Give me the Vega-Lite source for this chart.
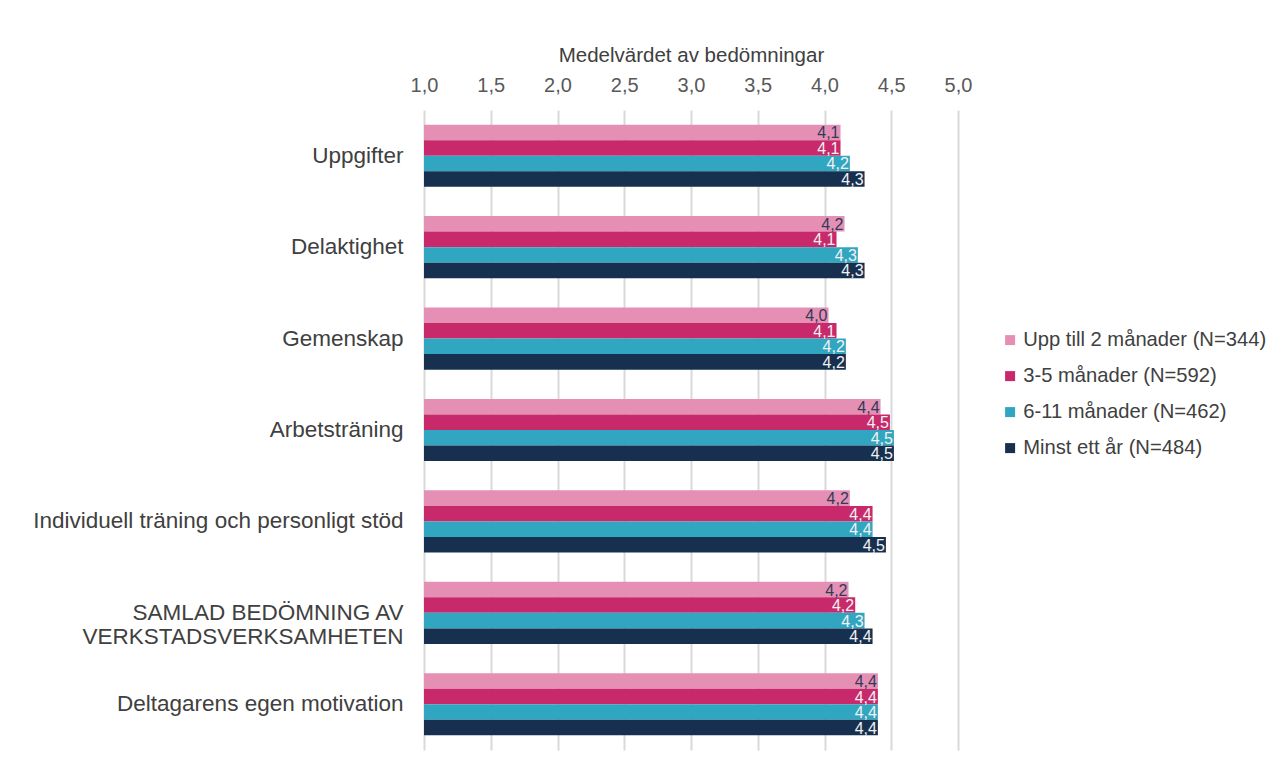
{
  "$schema": "https://vega.github.io/schema/vega-lite/v6.json",
  "width": 534,
  "height": 640,
  "padding": {"left": 424, "top": 110, "right": 326, "bottom": 22},
  "autosize": {"type": "none"},
  "background": "white",
  "config": {
    "locale": {"number": {"decimal": ",", "thousands": " ", "grouping": [3], "currency": ["", " kr"]}},
    "font": "Liberation Sans",
    "view": {"stroke": null}
  },
  "data": {
    "values": [
      {"cat": "Uppgifter", "group": "Upp till 2 månader (N=344)", "value": 4.12},
      {"cat": "Uppgifter", "group": "3-5 månader (N=592)", "value": 4.12},
      {"cat": "Uppgifter", "group": "6-11 månader (N=462)", "value": 4.19},
      {"cat": "Uppgifter", "group": "Minst ett år (N=484)", "value": 4.3},
      {"cat": "Delaktighet", "group": "Upp till 2 månader (N=344)", "value": 4.15},
      {"cat": "Delaktighet", "group": "3-5 månader (N=592)", "value": 4.09},
      {"cat": "Delaktighet", "group": "6-11 månader (N=462)", "value": 4.25},
      {"cat": "Delaktighet", "group": "Minst ett år (N=484)", "value": 4.3},
      {"cat": "Gemenskap", "group": "Upp till 2 månader (N=344)", "value": 4.03},
      {"cat": "Gemenskap", "group": "3-5 månader (N=592)", "value": 4.09},
      {"cat": "Gemenskap", "group": "6-11 månader (N=462)", "value": 4.16},
      {"cat": "Gemenskap", "group": "Minst ett år (N=484)", "value": 4.16},
      {"cat": "Arbetsträning", "group": "Upp till 2 månader (N=344)", "value": 4.42},
      {"cat": "Arbetsträning", "group": "3-5 månader (N=592)", "value": 4.49},
      {"cat": "Arbetsträning", "group": "6-11 månader (N=462)", "value": 4.52},
      {"cat": "Arbetsträning", "group": "Minst ett år (N=484)", "value": 4.52},
      {"cat": "Individuell träning och personligt stöd", "group": "Upp till 2 månader (N=344)", "value": 4.19},
      {"cat": "Individuell träning och personligt stöd", "group": "3-5 månader (N=592)", "value": 4.36},
      {"cat": "Individuell träning och personligt stöd", "group": "6-11 månader (N=462)", "value": 4.36},
      {"cat": "Individuell träning och personligt stöd", "group": "Minst ett år (N=484)", "value": 4.46},
      {"cat": "SAMLAD BEDÖMNING AV\u2002\u2002\u2002|VERKSTADSVERKSAMHETEN", "group": "Upp till 2 månader (N=344)", "value": 4.18},
      {"cat": "SAMLAD BEDÖMNING AV\u2002\u2002\u2002|VERKSTADSVERKSAMHETEN", "group": "3-5 månader (N=592)", "value": 4.23},
      {"cat": "SAMLAD BEDÖMNING AV\u2002\u2002\u2002|VERKSTADSVERKSAMHETEN", "group": "6-11 månader (N=462)", "value": 4.3},
      {"cat": "SAMLAD BEDÖMNING AV\u2002\u2002\u2002|VERKSTADSVERKSAMHETEN", "group": "Minst ett år (N=484)", "value": 4.36},
      {"cat": "Deltagarens egen motivation", "group": "Upp till 2 månader (N=344)", "value": 4.4},
      {"cat": "Deltagarens egen motivation", "group": "3-5 månader (N=592)", "value": 4.4},
      {"cat": "Deltagarens egen motivation", "group": "6-11 månader (N=462)", "value": 4.4},
      {"cat": "Deltagarens egen motivation", "group": "Minst ett år (N=484)", "value": 4.4}
    ]
  },
  "encoding": {
    "y": {
      "field": "cat", "type": "nominal", "sort": null,
      "scale": {"paddingInner": 0.32, "paddingOuter": 0.16},
      "axis": {
        "title": null, "domain": false, "ticks": false,
        "labelFontSize": 22.5, "labelColor": "#404040", "labelPadding": 21,
        "labelExpr": "split(datum.label, '|')", "labelLimit": 420, "labelLineHeight": 24
      }
    },
    "yOffset": {
      "field": "group", "type": "nominal",
      "sort": ["Upp till 2 månader (N=344)", "3-5 månader (N=592)", "6-11 månader (N=462)", "Minst ett år (N=484)"],
      "scale": {"paddingInner": 0, "paddingOuter": 0}
    },
    "x": {
      "field": "value", "type": "quantitative",
      "scale": {"domain": [1, 5], "nice": false, "zero": false},
      "axis": {
        "orient": "top", "title": "Medelvärdet av bedömningar", "format": ".1f",
        "values": [1, 1.5, 2, 2.5, 3, 3.5, 4, 4.5, 5],
        "domain": false, "ticks": false, "labelFlush": false,
        "labelFontSize": 20, "labelColor": "#595959", "labelPadding": 15,
        "titleFontSize": 20.5, "titleFontWeight": "normal", "titleColor": "#404040", "titlePadding": 10,
        "grid": true, "gridColor": "#d9d9d9", "gridWidth": 2
      }
    }
  },
  "layer": [
    {
      "mark": {"type": "bar"},
      "encoding": {
        "x2": {"datum": 1},
        "color": {
          "field": "group", "type": "nominal",
          "sort": ["Upp till 2 månader (N=344)", "3-5 månader (N=592)", "6-11 månader (N=462)", "Minst ett år (N=484)"],
          "scale": {
            "domain": ["Upp till 2 månader (N=344)", "3-5 månader (N=592)", "6-11 månader (N=462)", "Minst ett år (N=484)"],
            "range": ["#E68FB4", "#C8296B", "#31A6C1", "#17304F"]
          },
          "legend": {
            "title": null, "orient": "none", "legendX": 576, "legendY": 220,
            "symbolType": "square", "symbolSize": 100, "labelFontSize": 20.2, "labelColor": "#404040",
            "rowPadding": 15, "labelOffset": 3, "symbolStrokeWidth": 0, "labelLimit": 400
          }
        }
      }
    },
    {
      "mark": {"type": "text", "align": "right", "baseline": "middle", "dx": -1, "dy": 1, "fontSize": 16},
      "encoding": {
        "text": {"field": "value", "type": "quantitative", "format": ".1f"},
        "color": {
          "condition": {"test": "datum.group === 'Upp till 2 månader (N=344)'", "value": "#2E3B5A"},
          "value": "#F2F2F2"
        }
      }
    }
  ]
}
